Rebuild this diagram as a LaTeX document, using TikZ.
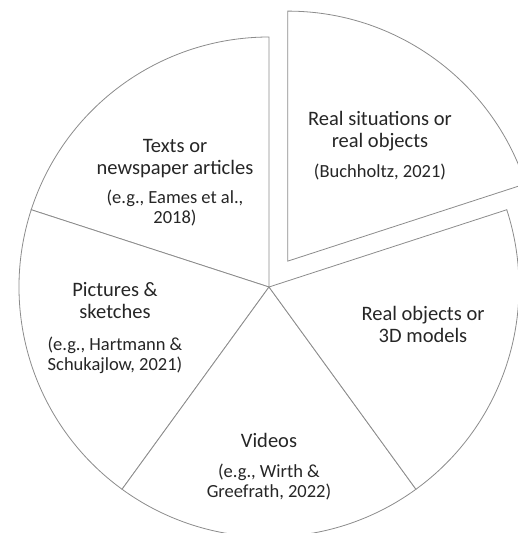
\documentclass[tikz,border=0pt]{standalone}
\usepackage{fontspec}
\setmainfont{Carlito}

\begin{document}
\begin{tikzpicture}[x=1pt,y=1pt,
    slice/.style={draw=black!45,line width=0.8pt,fill=white},
    headtext/.style={align=center,text=black!85,font=\fontsize{20.5}{22}\selectfont},
    citetext/.style={align=center,text=black!85,font=\fontsize{18.5}{20}\selectfont}]
    \useasboundingbox (-269, -246) rectangle (248, 287);

    % Kreisstuecke
    \draw[slice] (0, 0) -- (90:250) arc (90:162:250) -- cycle; % Texte
    \draw[slice] (0, 0) -- (162:250) arc (162:234:250) -- cycle; % Bilder
    \draw[slice] (0, 0) -- (234:250) arc (234:306:250) -- cycle; % Videos
    \draw[slice] (0, 0) -- (306:250) arc (306:378:250) -- cycle; % Objekte

    % herausgezogenes Stueck
    \coordinate (m) at (54:32);
    \draw[slice] (m) -- ++(18:250) arc (18:90:250) -- cycle;

    % Beschriftungen
    \node[headtext] (situation) at (111, 155.5) {Real situations or\\real objects};
    \node[citetext] (situationcite) at (111, 115) {(Buchholtz, 2021)};

    \node[headtext] (texts) at (-94, 128.5) {Texts or\\newspaper articles};
    \node[citetext] (textscite) at (-94, 79) {(e.g., Eames et al.,\\2018)};

    \node[headtext] (pictures) at (-154, -14) {Pictures \&\\sketches};
    \node[citetext] (picturescite) at (-154, -68) {(e.g., Hartmann \&\\Schukajlow, 2021)};

    \node[headtext] (videos) at (0, -153) {Videos};
    \node[citetext] (videoscite) at (0, -195) {(e.g., Wirth \&\\Greefrath, 2022)};

    \node[headtext] (objects) at (154, -37.5) {Real objects or\\3D models};
\end{tikzpicture}
\end{document}
